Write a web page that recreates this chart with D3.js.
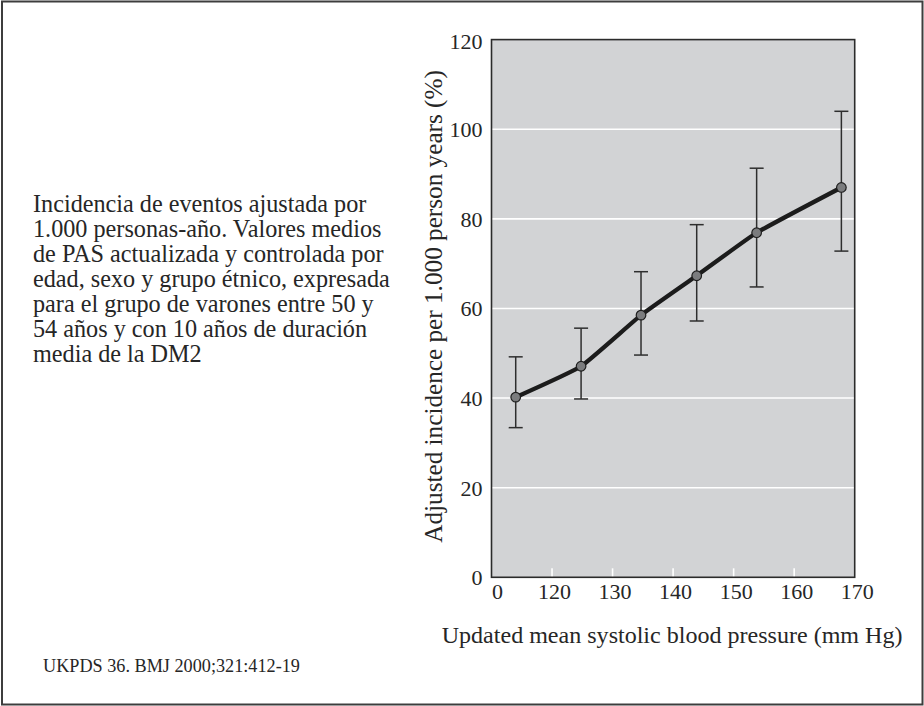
<!DOCTYPE html>
<html>
<head>
<meta charset="utf-8">
<script src="https://cdn.jsdelivr.net/npm/d3@7"></script>
<style>
  html, body { margin: 0; padding: 0; background: #fff; }
  svg { display: block; }
  text { font-family: "Liberation Serif", "DejaVu Serif", serif; fill: #262626; }
</style>
</head>
<body>
<svg id="chart" width="924" height="706"></svg>
<script>
// ---- data ----
const sbp        = [114.0, 124.8, 134.7, 143.9, 153.8, 167.8];   // updated mean SBP (mm Hg)
const incidence  = [40.2, 47.1, 58.5, 67.3, 76.9, 87.0];         // adjusted incidence
const ciLow      = [33.4, 39.8, 49.6, 57.2, 64.8, 72.8];
const ciHigh     = [49.2, 55.6, 68.2, 78.7, 91.3, 104.0];
const xTicks      = [110, 120, 130, 140, 150, 160, 170];
const xTickLabels = ["0", "120", "130", "140", "150", "160", "170"];
const yTicks      = [0, 20, 40, 60, 80, 100, 120];
const xTitle = "Updated mean systolic blood pressure (mm Hg)";
const yTitle = "Adjusted incidence per 1.000 person years (%)";
const noteLines = [
  "Incidencia de eventos ajustada por",
  "1.000 personas-año. Valores medios",
  "de PAS actualizada y controlada por",
  "edad, sexo y grupo étnico, expresada",
  "para el grupo de varones entre 50 y",
  "54 años y con 10 años de duración",
  "media de la DM2"
];
const sourceText = "UKPDS 36. BMJ 2000;321:412-19";

// ---- layout ----
const svg = d3.select("#chart");
const plot = { left: 491.5, right: 854.7, top: 39.6, bottom: 577.3 };

const x = d3.scaleLinear().domain([110, 170]).range([plot.left, plot.right]);
const y = d3.scaleLinear().domain([0, 120]).range([plot.bottom, plot.top]);

// helper: scale a text's font size so that it spans a target width
function fitSize(str, target, base) {
  const t = svg.append("text").attr("font-size", base).text(str);
  const w = t.node().getComputedTextLength();
  t.remove();
  return base * target / w;
}

// outer frame
svg.append("rect")
  .attr("x", 2).attr("y", 1.5).attr("width", 920.5).attr("height", 703)
  .attr("fill", "none").attr("stroke", "#3d3d3d").attr("stroke-width", 2);

// plot background
svg.append("rect")
  .attr("x", plot.left).attr("y", plot.top)
  .attr("width", plot.right - plot.left).attr("height", plot.bottom - plot.top)
  .attr("fill", "#d2d3d5");

// horizontal white grid lines
svg.append("g").selectAll("line")
  .data(yTicks.filter(v => v > 0 && v < 120))
  .join("line")
  .attr("x1", plot.left).attr("x2", plot.right)
  .attr("y1", d => y(d)).attr("y2", d => y(d))
  .attr("stroke", "#ffffff").attr("stroke-width", 1.6);

// white inner ticks on the x axis
svg.append("g").selectAll("line")
  .data(xTicks.filter(v => v > 110 && v < 170))
  .join("line")
  .attr("x1", d => x(d)).attr("x2", d => x(d))
  .attr("y1", plot.bottom).attr("y2", plot.bottom - 9)
  .attr("stroke", "#ffffff").attr("stroke-width", 1.6);

// plot frame
svg.append("rect")
  .attr("x", plot.left).attr("y", plot.top)
  .attr("width", plot.right - plot.left).attr("height", plot.bottom - plot.top)
  .attr("fill", "none").attr("stroke", "#2b2b2b").attr("stroke-width", 1.6);

// axes labels via d3 axes (lines hidden)
const tickFont = fitSize("120", 33, 20);

const xAxis = d3.axisBottom(x).tickValues(xTicks)
  .tickFormat((d, i) => xTickLabels[i]).tickSize(0).tickPadding(0);
const gx = svg.append("g").attr("transform", `translate(0,${plot.bottom})`).call(xAxis);
gx.select(".domain").remove();
gx.selectAll("text")
  .attr("font-family", '"Liberation Serif", serif')
  .attr("font-size", tickFont).attr("fill", "#262626")
  .attr("dy", null).attr("y", 22)
  .attr("dx", (d) => d === 110 ? 5.5 : 2);

const yAxis = d3.axisLeft(y).tickValues(yTicks).tickSize(0).tickPadding(0);
const gy = svg.append("g").attr("transform", `translate(${plot.left - 9},0)`).call(yAxis);
gy.select(".domain").remove();
gy.selectAll("text")
  .attr("font-family", '"Liberation Serif", serif')
  .attr("font-size", tickFont).attr("fill", "#262626")
  .attr("dy", d => d === 120 ? "0.42em" : "0.34em");

// axis titles
const titleFont = fitSize(xTitle, 461, 20);
svg.append("text")
  .attr("x", (plot.left + plot.right) / 2 - 1).attr("y", 643)
  .attr("text-anchor", "middle").attr("font-size", titleFont)
  .text(xTitle);

const yTitleFont = fitSize(yTitle, 473, 20);
svg.append("text")
  .attr("transform", `translate(442,${(plot.top + plot.bottom) / 2 - 2}) rotate(-90)`)
  .attr("text-anchor", "middle").attr("font-size", yTitleFont)
  .text(yTitle);

// error bars
const pts = sbp.map((v, i) => ({ x: v, y: incidence[i], lo: ciLow[i], hi: ciHigh[i] }));
const eb = svg.append("g").attr("stroke", "#2e2e2e").attr("stroke-width", 1.5);
eb.selectAll("line.v").data(pts).join("line").attr("class", "v")
  .attr("x1", d => x(d.x)).attr("x2", d => x(d.x))
  .attr("y1", d => y(d.lo)).attr("y2", d => y(d.hi));
eb.selectAll("line.t").data(pts).join("line").attr("class", "t")
  .attr("x1", d => x(d.x) - 7).attr("x2", d => x(d.x) + 7)
  .attr("y1", d => y(d.hi)).attr("y2", d => y(d.hi));
eb.selectAll("line.b").data(pts).join("line").attr("class", "b")
  .attr("x1", d => x(d.x) - 7).attr("x2", d => x(d.x) + 7)
  .attr("y1", d => y(d.lo)).attr("y2", d => y(d.lo));

// curve
const line = d3.line().x(d => x(d.x)).y(d => y(d.y)).curve(d3.curveCardinal.tension(0.6));
svg.append("path").datum(pts)
  .attr("d", line).attr("fill", "none")
  .attr("stroke", "#1c1c1c").attr("stroke-width", 4.3).attr("stroke-linejoin", "round");

// points
svg.append("g").selectAll("circle").data(pts).join("circle")
  .attr("cx", d => x(d.x)).attr("cy", d => y(d.y)).attr("r", 4.8)
  .attr("fill", "#7b7c7e").attr("stroke", "#1e1e1e").attr("stroke-width", 1.2);

// note text block on the left
const noteFont = fitSize(noteLines[3], 357, 20);
const note = svg.append("text").attr("font-size", noteFont);
note.selectAll("tspan").data(noteLines).join("tspan")
  .attr("x", 33).attr("y", (d, i) => 212 + i * 25)
  .text(d => d);

// source
const srcFont = fitSize(sourceText, 257, 18);
svg.append("text")
  .attr("x", 43).attr("y", 672).attr("font-size", srcFont)
  .text(sourceText);
</script>
</body>
</html>
